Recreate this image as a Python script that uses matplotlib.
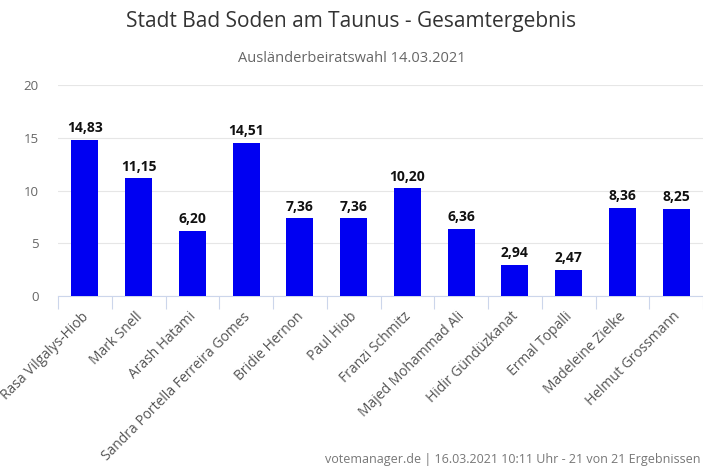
import matplotlib as mpl
from matplotlib import pyplot as plt

plt.rcParams.update({
    'font.family': ['Open Sans', 'DejaVu Sans'],
    'font.size': 9,
})

# Data
candidates = ['Rasa Vilgalys-Hiob', 'Mark Snell', 'Arash Hatami',
              'Sandra Portella Ferreira Gomes', 'Bridie Hernon', 'Paul Hiob',
              'Franzi Schmitz', 'Majed Mohammad Ali', 'Hidir Gündüzkanat',
              'Ermal Topalli', 'Madeleine Zielke', 'Helmut Grossmann']
percent = [14.83, 11.15, 6.20, 14.51, 7.36, 7.36, 10.20, 6.36, 2.94, 2.47, 8.36, 8.25]
yticks = [0, 5, 10, 15, 20]

fig = plt.figure(figsize=(7.03, 4.66), dpi=100)
ax = fig.add_axes([58/703, 1 - 296/466, 645/703, 211/466])

x = list(range(len(candidates)))
ax.bar(x, percent, width=0.5, color='#0000f2', zorder=3)
for xi, v in zip(x, percent):
    ax.text(xi, v + 0.45, f'{v:.2f}'.replace('.', ','), ha='center', va='bottom',
            fontsize=10, fontweight='bold', color='#111111')

ax.set_xlim(-0.5, len(candidates) - 0.5)
ax.set_ylim(0, 20)
ax.set_yticks(yticks)
ax.set_yticklabels([str(t) for t in yticks], color='#666666', fontsize=9.5)
ax.grid(axis='y', color='#e6e6e6', linewidth=0.8, zorder=0)
for s in ['top', 'right', 'left']:
    ax.spines[s].set_visible(False)
ax.spines['bottom'].set_color('#ccd6eb')
ax.tick_params(axis='y', length=0, pad=14)

# category boundary ticks
ax.set_xticks([i - 0.5 for i in range(len(candidates) + 1)], minor=False)
ax.set_xticklabels([''] * (len(candidates) + 1))
ax.tick_params(axis='x', length=9, color='#ccd6eb', width=0.8)
for xi, name in zip(x, candidates):
    ax.text(xi - 0.07, -1.25, name, rotation=45, ha='right', va='top',
            rotation_mode='anchor', fontsize=10, color='#555555',
            transform=ax.transData, clip_on=False)

fig.text(0.5, 1 - 22/466, 'Stadt Bad Soden am Taunus - Gesamtergebnis',
         ha='center', va='center', fontsize=15, color='#333333')
fig.text(0.5, 1 - 58/466, 'Ausländerbeiratswahl 14.03.2021',
         ha='center', va='center', fontsize=10.5, color='#666666')
fig.text(0.996, 1 - 459/466,
         'votemanager.de | 16.03.2021 10:11 Uhr - 21 von 21 Ergebnissen',
         ha='right', va='center', fontsize=9, color='#777777')

fig.savefig('out.png', dpi=100)
